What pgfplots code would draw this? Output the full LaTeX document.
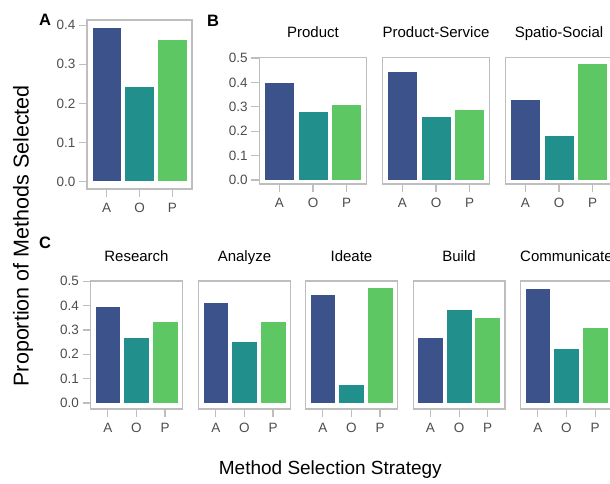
\documentclass[border=0pt]{standalone}
\usepackage{fontspec}
\setmainfont{Liberation Sans}
\usepackage{pgfplots}
\pgfplotsset{compat=1.18}
\definecolor{cA}{HTML}{3B528B}
\definecolor{cO}{HTML}{21908C}
\definecolor{cP}{HTML}{5DC863}
\definecolor{framegray}{HTML}{BEBEBE}
\definecolor{labgray}{HTML}{4D4D4D}
\newcommand{\ticfont}{\fontsize{13.5}{16}\selectfont}
\newcommand{\titfont}{\fontsize{15}{18}\selectfont}
\pgfplotsset{
  panel/.style={
    scale only axis, anchor=north west,
    xmin=-0.6, xmax=2.6,
    xtick={0,1,2}, xticklabels={A,O,P},
    axis line style={draw=framegray, line width=1.4pt},
    tick style={draw=framegray, line width=1.1pt},
    major tick length=8pt,
    tick align=outside,
    xtick pos=bottom, ytick pos=left,
    ticklabel style={font=\ticfont, text=labgray},
    xticklabel style={yshift=-2.5pt},
    yticklabel style={inner xsep=3.5pt},
    ybar, bar width=0.9, bar shift=0pt,
    yticklabel style={/pgf/number format/.cd, fixed, fixed zerofill, precision=1},
    /pgf/number format/assume math mode=true,
    title style={font=\titfont, at={(0.5,1)}, anchor=base, yshift=13.5pt},
  },
  barA/.style={fill=cA, draw=white, line width=0.7pt},
  barO/.style={fill=cO, draw=white, line width=0.7pt},
  barP/.style={fill=cP, draw=white, line width=0.7pt},
}
\begin{document}
\begin{tikzpicture}
\useasboundingbox (0pt,0pt) rectangle (610pt,-483pt);
% Panel A
\begin{axis}[panel, at={(87pt,-20pt)}, width=105pt, height=169pt,
  ymin=-0.0187, ymax=0.413, ytick={0,0.1,0.2,0.3,0.4}]
\addplot[barA] coordinates {(0,0.393)};
\addplot[barO] coordinates {(1,0.2435)};
\addplot[barP] coordinates {(2,0.364)};
\end{axis}
% Panel B
\begin{axis}[panel, at={(259.3pt,-57.3pt)}, width=107.4pt, height=126.7pt,
  ymin=-0.0164, ymax=0.503, ytick={0,0.1,0.2,0.3,0.4,0.5}, title={Product}]
\addplot[barA] coordinates {(0,0.402)};
\addplot[barO] coordinates {(1,0.281)};
\addplot[barP] coordinates {(2,0.311)};
\end{axis}
\begin{axis}[panel, at={(382.3pt,-57.3pt)}, width=107.4pt, height=126.7pt,
  ymin=-0.0164, ymax=0.503, ytick=\empty, title={Product-Service}]
\addplot[barA] coordinates {(0,0.447)};
\addplot[barO] coordinates {(1,0.261)};
\addplot[barP] coordinates {(2,0.291)};
\end{axis}
\begin{axis}[panel, at={(505.3pt,-57.3pt)}, width=107.4pt, height=126.7pt,
  ymin=-0.0164, ymax=0.503, ytick=\empty, title={Spatio-Social}]
\addplot[barA] coordinates {(0,0.332)};
\addplot[barO] coordinates {(1,0.184)};
\addplot[barP] coordinates {(2,0.480)};
\end{axis}
% Panel C
\begin{axis}[panel, at={(90.7pt,-281pt)}, width=91.5pt, height=128pt,
  ymin=-0.0245, ymax=0.501, ytick={0,0.1,0.2,0.3,0.4,0.5}, title={Research}]
\addplot[barA] coordinates {(0,0.398)};
\addplot[barO] coordinates {(1,0.268)};
\addplot[barP] coordinates {(2,0.335)};
\end{axis}
\begin{axis}[panel, at={(198.7pt,-281pt)}, width=91.5pt, height=128pt,
  ymin=-0.0245, ymax=0.501, ytick=\empty, title={Analyze}]
\addplot[barA] coordinates {(0,0.414)};
\addplot[barO] coordinates {(1,0.253)};
\addplot[barP] coordinates {(2,0.335)};
\end{axis}
\begin{axis}[panel, at={(305.7pt,-281pt)}, width=91.5pt, height=128pt,
  ymin=-0.0245, ymax=0.501, ytick=\empty, title={Ideate}]
\addplot[barA] coordinates {(0,0.445)};
\addplot[barO] coordinates {(1,0.078)};
\addplot[barP] coordinates {(2,0.475)};
\end{axis}
\begin{axis}[panel, at={(413.3pt,-281pt)}, width=91.5pt, height=128pt,
  ymin=-0.0245, ymax=0.501, ytick=\empty, title={Build}]
\addplot[barA] coordinates {(0,0.270)};
\addplot[barO] coordinates {(1,0.383)};
\addplot[barP] coordinates {(2,0.350)};
\end{axis}
\begin{axis}[panel, at={(520.7pt,-281pt)}, width=91.5pt, height=128pt,
  ymin=-0.0245, ymax=0.501, ytick=\empty, title={Communicate}]
\addplot[barA] coordinates {(0,0.469)};
\addplot[barO] coordinates {(1,0.224)};
\addplot[barP] coordinates {(2,0.311)};
\end{axis}
% Panel letters and shared labels
\node[anchor=base west, font=\fontsize{16.5}{18}\selectfont\bfseries, inner sep=0pt] at (39pt,-25pt) {A};
\node[anchor=base west, font=\fontsize{16.5}{18}\selectfont\bfseries, inner sep=0pt] at (207pt,-26pt) {B};
\node[anchor=base west, font=\fontsize{16.5}{18}\selectfont\bfseries, inner sep=0pt] at (39pt,-248.3pt) {C};
\node[anchor=base, font=\fontsize{19}{22}\selectfont, inner sep=0pt] at (330.3pt,-474pt) {Method Selection Strategy};
\node[anchor=base, rotate=90, font=\fontsize{21.5}{24}\selectfont, inner sep=0pt] at (28.5pt,-235.8pt) {Proportion of Methods Selected};
\end{tikzpicture}
\end{document}
